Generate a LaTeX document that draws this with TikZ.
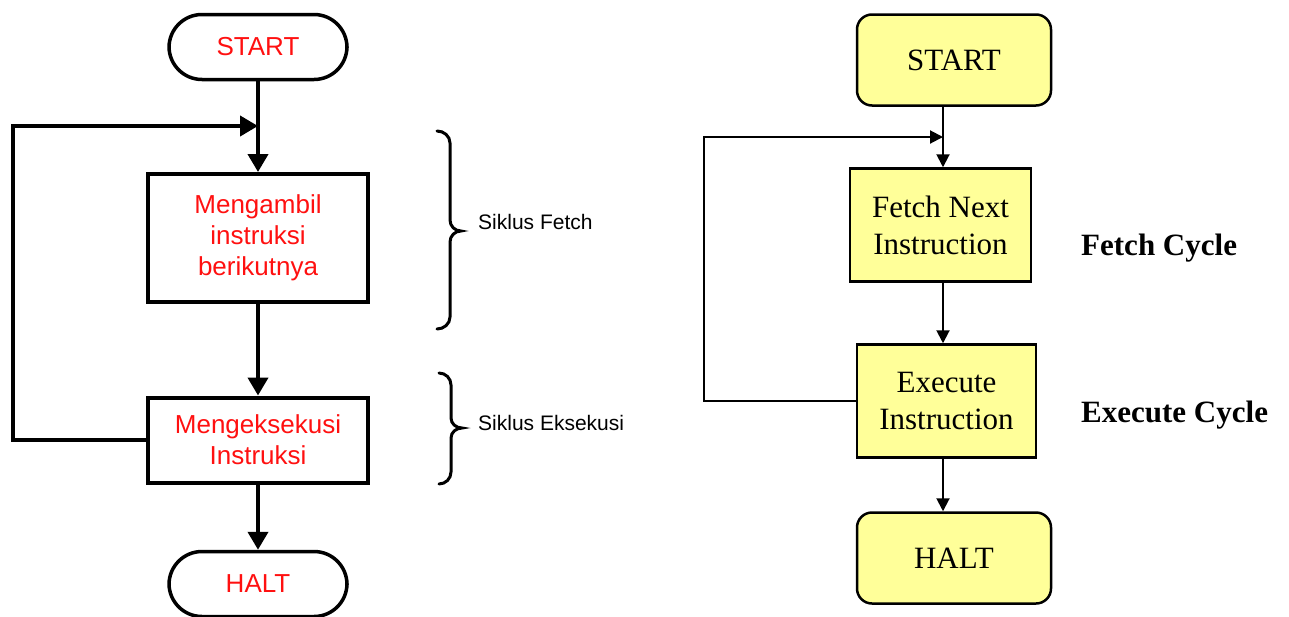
\documentclass[tikz,border=0pt]{standalone}
\usepackage{fontspec}
\setmainfont{Liberation Serif}
\newfontfamily\arialfont{Liberation Sans}
\usetikzlibrary{arrows.meta}
\definecolor{boxyellow}{HTML}{FFFF99}
\definecolor{txtred}{HTML}{FF1010}
\begin{document}
\begin{tikzpicture}[x=1pt,y=-1pt,
    flow/.style={line width=4pt,-{Triangle[width=20pt,length=18pt]}},
    term/.style={draw,line width=3.5pt,rounded corners=33pt,minimum width=178pt,minimum height=65pt,
      text=txtred,font=\arialfont\fontsize{26}{31}\selectfont},
    proc/.style={draw,line width=4pt,minimum width=220pt,align=center,
      text=txtred,font=\arialfont\fontsize{26}{31}\selectfont},
    brc/.style={line width=3pt,line cap=round},
    siklus/.style={anchor=base west,inner sep=0pt,font=\arialfont\fontsize{21}{24}\selectfont},
    rflow/.style={line width=2pt,-{Triangle[width=13pt,length=13pt]}},
    rterm/.style={draw,line width=2.5pt,fill=boxyellow,rounded corners=15pt,
      minimum width=194pt,minimum height=91pt,font=\fontsize{31}{37}\selectfont},
    rproc/.style={draw,line width=2.5pt,fill=boxyellow,align=center,minimum height=113pt,
      font=\fontsize{31}{37}\selectfont},
    cycle/.style={anchor=base west,inner sep=0pt,font=\bfseries\fontsize{31}{37}\selectfont}]
  \useasboundingbox (0,0) rectangle (1289,616);
  % kiri
  \node[term] (start) at (258,47) {START};
  \node[proc,minimum height=128pt] (fetch) at (258,238) {Mengambil\\instruksi\\berikutnya};
  \node[proc,minimum height=85pt] (exec) at (258,440) {Mengeksekusi\\Instruksi};
  \node[term] (halt) at (258,584) {HALT};
  \coordinate (join) at (258,126);
  \coordinate (loop) at (13,126);
  \draw[flow] (start) -- (fetch);
  \draw[flow] (exec.west) -| (loop) -- (join);
  \draw[flow] (fetch) -- (exec);
  \draw[flow] (exec) -- (halt);
  \draw[brc] (437,131) to[out=0,in=90] (450,143) -- (450,220)
    to[out=-90,in=180] (461,231) to[out=180,in=90] (450,242) -- (450,317) to[out=-90,in=0] (437,329);
  \draw[brc] (439,373) to[out=0,in=90] (451,385) -- (451,418)
    to[out=-90,in=180] (462,428) to[out=180,in=90] (451,438) -- (451,472) to[out=-90,in=0] (439,484);
  \node[siklus] (sfetch) at (478,229) {Siklus Fetch};
  \node[siklus] (sexec) at (478,430) {Siklus Eksekusi};
  % kanan
  \node[rterm] (rstart) at (954,60) {START};
  \node[rproc,minimum width=181pt] (rfetch) at (940.5,225) {Fetch Next\\Instruction};
  \node[rproc,minimum width=179pt] (rexec) at (946.5,401) {Execute\\Instruction};
  \node[rterm] (rhalt) at (954,558) {HALT};
  \coordinate (rjoin) at (943,137);
  \coordinate (rloop) at (704,137);
  \draw[rflow] (rstart.south -| rjoin) -- (rfetch.north -| rjoin);
  \draw[rflow] (rexec.west) -| (rloop) -- (rjoin);
  \draw[rflow] (rfetch.south -| rjoin) -- (rexec.north -| rjoin);
  \draw[rflow] (rexec.south -| rjoin) -- (rhalt.north -| rjoin);
  \node[cycle] (cfetch) at (1081,255) {Fetch Cycle};
  \node[cycle] (cexec) at (1081,422) {Execute Cycle};
\end{tikzpicture}
\end{document}
